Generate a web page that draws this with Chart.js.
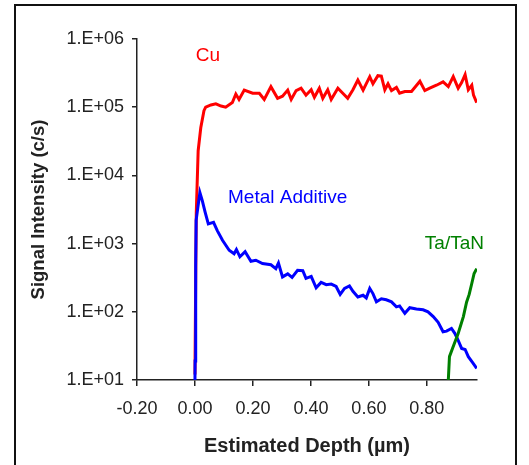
<!DOCTYPE html>
<html>
<head>
<meta charset="utf-8">
<script src="https://cdn.jsdelivr.net/npm/chart.js@4.4.1/dist/chart.umd.min.js"></script>
<style>
  body { margin: 0; background: #fff; }
  #wrap { position: relative; width: 529px; height: 465px; overflow: hidden; }
  #frame { position: absolute; left: 14px; top: 4px; width: 503px; height: 520px; box-sizing: border-box; border: 2px solid #111; pointer-events: none; }
</style>
</head>
<body>
<div id="wrap">
  <canvas id="myChart" width="529" height="465"></canvas>
  <div id="frame"></div>
</div>
<script>
// depth in um, intensity in c/s
const cuDepth = [0.000, 0.003, 0.0045, 0.011, 0.020, 0.031, 0.037, 0.055, 0.072, 0.090, 0.106, 0.129, 0.141, 0.152, 0.170, 0.199,
  0.222, 0.239, 0.262, 0.285, 0.302, 0.320, 0.332, 0.349, 0.366, 0.383, 0.401, 0.412, 0.429, 0.441, 0.458, 0.470, 0.493,
  0.510, 0.527, 0.545, 0.562, 0.580, 0.603, 0.614, 0.631, 0.643, 0.655, 0.666, 0.678, 0.695, 0.706, 0.724, 0.747, 0.776,
  0.793, 0.810, 0.833, 0.856, 0.874, 0.891, 0.908, 0.920, 0.932, 0.943, 0.955, 0.961, 0.972];
const cuSignal = [12, 600, 2800, 23000, 50000, 89000, 100000, 108000, 112000, 104000, 100000, 117000, 156000, 130000, 178000, 160000,
  160000, 130000, 200000, 135000, 145000, 178000, 130000, 175000, 190000, 150000, 180000, 140000, 190000, 135000, 180000, 130000, 190000,
  160000, 135000, 180000, 250000, 178000, 280000, 220000, 290000, 285000, 180000, 220000, 175000, 195000, 160000, 170000, 170000, 240000,
  175000, 190000, 210000, 235000, 200000, 280000, 190000, 230000, 300000, 180000, 210000, 150000, 117000];

const addDepth = [0.000, 0.0005, 0.002, 0.003, 0.004, 0.010, 0.017, 0.025, 0.035, 0.046, 0.064, 0.077, 0.095, 0.118, 0.135, 0.143,
  0.155, 0.173, 0.193, 0.210, 0.233, 0.262, 0.279, 0.288, 0.302, 0.320, 0.335, 0.354, 0.372, 0.383, 0.401, 0.418, 0.435,
  0.453, 0.470, 0.487, 0.501, 0.516, 0.533, 0.545, 0.562, 0.580, 0.591, 0.603, 0.614, 0.626, 0.643, 0.660, 0.678, 0.695,
  0.706, 0.724, 0.741, 0.764, 0.787, 0.804, 0.822, 0.839, 0.856, 0.868, 0.885, 0.897, 0.908, 0.920, 0.932, 0.943, 0.958, 0.972];
const addSignal = [10, 19, 75, 460, 2200, 3400, 5600, 4300, 2900, 1950, 2050, 1550, 1120, 800, 710, 820,
  640, 760, 550, 570, 510, 490, 430, 520, 325, 360, 320, 405, 400, 310, 330, 225, 270,
  250, 255, 235, 180, 220, 240, 200, 165, 175, 160, 220, 185, 140, 155, 150, 140, 118,
  122, 95, 115, 110, 107, 100, 85, 70, 51, 52, 57, 48, 38, 29, 28, 22, 18, 14.8];

const taDepth = [0.874, 0.878, 0.891, 0.908, 0.926, 0.937, 0.946, 0.955, 0.963, 0.972];
const taSignal = [10, 22, 31, 48, 85, 138, 180, 260, 365, 430];

const xTicks = [-0.2, 0, 0.2, 0.4, 0.6, 0.8];
const yTicks = [10, 100, 1000, 10000, 100000, 1000000];
const yTickLabels = ['1.E+01', '1.E+02', '1.E+03', '1.E+04', '1.E+05', '1.E+06'];

// in-plot series names, placed in data coordinates (left edge, vertical middle)
const labelTexts = ['Cu', 'Metal Additive', 'Ta/TaN'];
const labelX = [0.003, 0.114, 0.793];
const labelY = [560000, 4700, 980];
const labelColors = ['#ff0000', '#0000ff', '#008000'];

const pts = (xs, ys) => xs.map((v, i) => ({ x: v, y: ys[i] }));

const seriesLabels = {
  id: 'seriesLabels',
  afterDatasetsDraw(chart) {
    const { ctx, scales } = chart;
    ctx.save();
    ctx.font = '19px "Liberation Sans", Arial, sans-serif';
    ctx.textAlign = 'left';
    ctx.textBaseline = 'middle';
    labelTexts.forEach((t, i) => {
      ctx.fillStyle = labelColors[i];
      ctx.fillText(t, scales.x.getPixelForValue(labelX[i]), scales.y.getPixelForValue(labelY[i]));
    });
    ctx.restore();
  }
};

const tickFont = { family: '"Liberation Sans", Arial, sans-serif', size: 18 };

const config = {
  type: 'line',
  data: {
    datasets: [
      { label: 'Cu', data: pts(cuDepth, cuSignal), borderColor: '#ff0000', order: 3 },
      { label: 'Metal Additive', data: pts(addDepth, addSignal), borderColor: '#0000ff', order: 2 },
      { label: 'Ta/TaN', data: pts(taDepth, taSignal), borderColor: '#008000', order: 1 }
    ]
  },
  options: {
    responsive: false,
    animation: false,
    layout: { padding: { top: 39, right: 52, left: 0, bottom: 0 } },
    elements: {
      line: { borderWidth: 3, tension: 0, fill: false },
      point: { radius: 0 }
    },
    plugins: { legend: { display: false }, tooltip: { enabled: false } },
    scales: {
      x: {
        type: 'linear',
        min: -0.2,
        max: 0.973,
        afterBuildTicks: scale => { scale.ticks = xTicks.map(v => ({ value: v })); },
        afterFit: scale => { scale.height = 85; },
        ticks: {
          color: '#222', font: tickFont, padding: 12, maxRotation: 0, autoSkip: false,
          callback: v => Number(v).toFixed(2)
        },
        grid: { drawOnChartArea: false, drawTicks: true, tickLength: 6, color: '#222', lineWidth: 1.5 },
        border: { display: true, color: '#222', width: 1.5 },
        title: {
          display: true, text: 'Estimated Depth (µm)', color: '#222',
          font: { family: '"Liberation Sans", Arial, sans-serif', size: 20, weight: 'bold' },
          padding: { top: 0, bottom: 7 }
        }
      },
      y: {
        type: 'logarithmic',
        min: 10,
        max: 1000000,
        afterBuildTicks: scale => { scale.ticks = yTicks.map(v => ({ value: v })); },
        afterFit: scale => { scale.width = 137; },
        ticks: {
          color: '#222', font: tickFont, padding: 8,
          callback: (v, i) => yTickLabels[i]
        },
        grid: { drawOnChartArea: false, drawTicks: true, tickLength: 5, color: '#222', lineWidth: 1.5 },
        border: { display: true, color: '#222', width: 1.5 },
        title: {
          display: true, text: 'Signal Intensity (c/s)', color: '#222',
          font: { family: '"Liberation Sans", Arial, sans-serif', size: 18.5, weight: 'bold' },
          padding: { top: 28, bottom: 0 }
        }
      }
    }
  },
  plugins: [seriesLabels]
};

new Chart(document.getElementById('myChart'), config);
</script>
</body>
</html>
